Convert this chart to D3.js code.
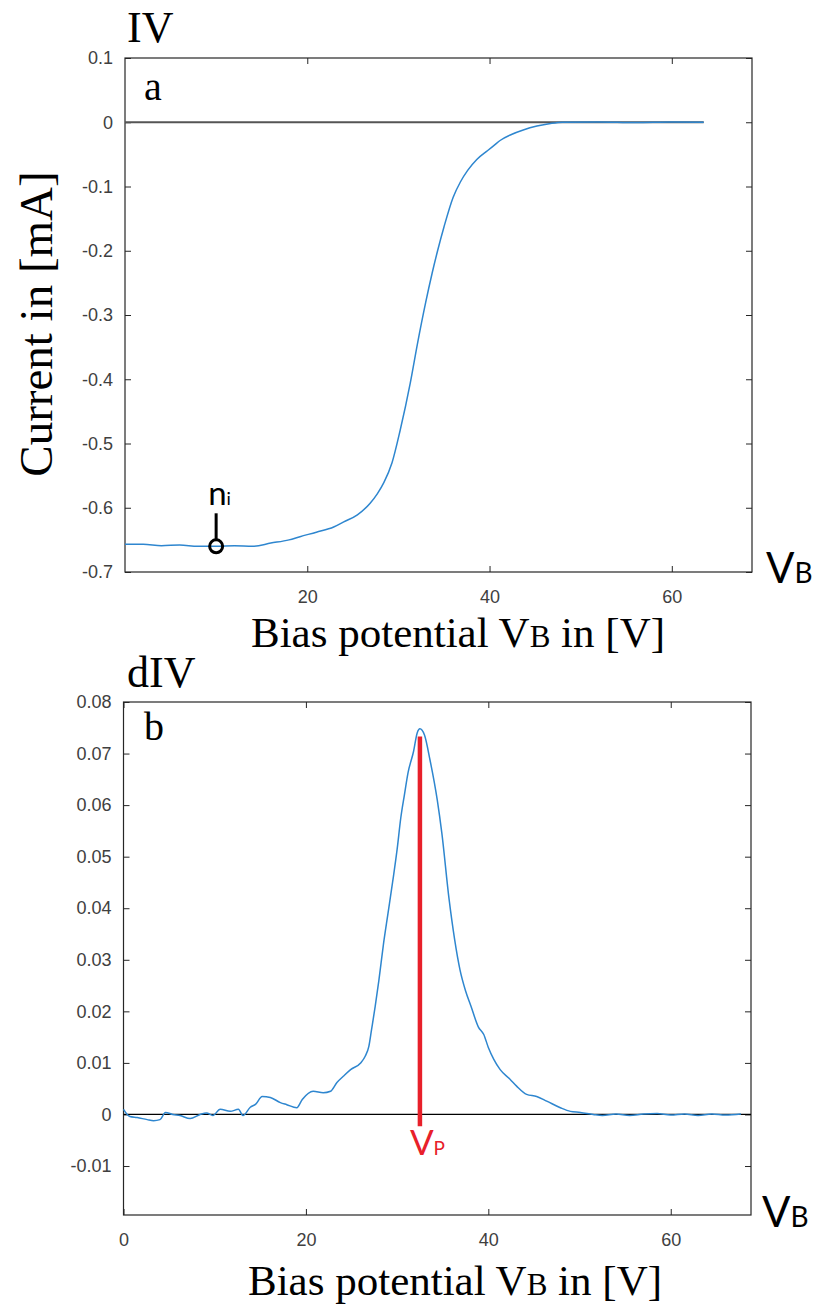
<!DOCTYPE html>
<html>
<head>
<meta charset="utf-8">
<script src="https://cdn.jsdelivr.net/npm/d3@7/dist/d3.min.js"></script>
<style>
  html, body { margin: 0; padding: 0; background: #fff; }
  svg { display: block; }
</style>
</head>
<body>
<svg id="chart" width="814" height="1307"></svg>
<script>
// ---------------- DATA ----------------
// Panel a: IV characteristic (bias potential V, current mA)
const ivVoltage = [0, 2, 4, 6, 8, 10, 12, 14, 16, 18, 19.2, 21, 22.9, 24, 25.5, 26.9, 27.7, 28.4, 29.3, 30.2, 31.3, 32.1, 33, 33.7, 34.3, 35, 36, 36.8, 37.6, 38.6, 39.8, 40.5, 41.2, 42.4, 43.7, 45.2, 46.7, 48, 52, 56, 60, 63.5];
const ivCurrent = [-0.657, -0.657, -0.659, -0.658, -0.660, -0.660, -0.659, -0.660, -0.655, -0.650, -0.645, -0.638, -0.630, -0.622, -0.611, -0.593, -0.578, -0.561, -0.530, -0.479, -0.406, -0.344, -0.280, -0.235, -0.200, -0.163, -0.117, -0.093, -0.075, -0.058, -0.044, -0.036, -0.028, -0.019, -0.012, -0.006, -0.002, 0, 0.0005, -0.0005, 0.0003, 0];
const ivZeroVoltage = [0, 63.5];
const ivZeroCurrent = [0, 0];
const niPoint = [10, -0.66];

// Panel b: derivative dIV
const dIVVoltage = [0, 0.7, 1.5, 2.6, 3.3, 4, 4.6, 5.4, 6.2, 7.3, 8.4, 9.1, 9.8, 10.6, 11.7, 12.6, 13.1, 13.9, 14.5, 15.2, 16.1, 17.2, 17.9, 19.0, 19.6, 20.8, 21.9, 22.7, 23.4, 24.1, 24.9, 26.0, 26.5, 26.9, 27.2, 27.6, 28.0, 28.5, 29.0, 29.5, 30.0, 30.4, 30.8, 31.2, 31.8, 32.2, 32.5, 33.0, 33.6, 34.4, 34.9, 35.7, 36.3, 36.9, 37.5, 38.1, 38.9, 39.5, 40.0, 40.6, 41.3, 42.4, 43.1, 44.2, 45.3, 46.4, 47.9, 49.0, 50.1, 51.5, 52.5, 54, 55.5, 57, 58.5, 60, 61.5, 63, 64.5, 66, 67.7];
const dIVValue = [0.001, -0.0004, -0.0006, -0.001, -0.0012, -0.001, 0.0004, 0.0, -0.0002, -0.0008, 0, 0.0003, -0.0002, 0.001, 0.0006, 0.001, -0.0002, 0.0014, 0.002, 0.0035, 0.0033, 0.0023, 0.0019, 0.0013, 0.0029, 0.0045, 0.0042, 0.0045, 0.0062, 0.0074, 0.0087, 0.010, 0.0113, 0.0132, 0.0165, 0.021, 0.026, 0.033, 0.039, 0.045, 0.0514, 0.0575, 0.0620, 0.0663, 0.0704, 0.074, 0.0748, 0.0736, 0.0688, 0.061, 0.0546, 0.0417, 0.034, 0.028, 0.024, 0.021, 0.017, 0.0155, 0.013, 0.0107, 0.0087, 0.0068, 0.0055, 0.0039, 0.0035, 0.0026, 0.0013, 0.0006, 0.0004, 0, -0.0002, 0.0001, -0.0002, 0.0001, 0.0002, -0.0001, 0.0001, -0.0002, 0.0001, -0.0001, 0.0001];
const vpVoltage = 32.5;
const vpRange = [-0.0023, 0.0733];

// Ticks
const xTicksA = [20, 40, 60];
const yTicksA = [0.1, 0, -0.1, -0.2, -0.3, -0.4, -0.5, -0.6, -0.7];
const yTickLabelsA = ["0.1", "0", "-0.1", "-0.2", "-0.3", "-0.4", "-0.5", "-0.6", "-0.7"];
const xTicksB = [0, 20, 40, 60];
const yTicksB = [0.08, 0.07, 0.06, 0.05, 0.04, 0.03, 0.02, 0.01, 0, -0.01];
const yTickLabelsB = ["0.08", "0.07", "0.06", "0.05", "0.04", "0.03", "0.02", "0.01", "0", "-0.01"];

// ---------------- DRAW ----------------
const svg = d3.select("#chart");
const BLUE = "#2e86cf";
const RED = "#e8202a";
const AXIS = "#262626";
const serif = "'Liberation Serif', 'Times New Roman', serif";
const sans = "'Liberation Sans', Arial, sans-serif";
const cal = "Lato, 'Open Sans', sans-serif";

function panel(cfg) {
  const x = d3.scaleLinear().domain(cfg.xDomain).range([cfg.left, cfg.right]);
  const y = d3.scaleLinear().domain(cfg.yDomain).range([cfg.bottom, cfg.top]);
  const g = svg.append("g");

  const styleAxis = sel => {
    sel.select(".domain").remove();
    sel.selectAll(".tick line").attr("stroke", AXIS).attr("stroke-width", 1);
    sel.selectAll(".tick text").attr("fill", "#404040").style("font-family", sans).style("font-size", "18px");
  };

  g.append("g").attr("transform", `translate(0,${cfg.bottom})`)
    .call(d3.axisBottom(x).tickValues(cfg.xTicks).tickSize(-6).tickPadding(18).tickFormat(d3.format("d")))
    .call(styleAxis);
  g.append("g").attr("transform", `translate(0,${cfg.top})`)
    .call(d3.axisTop(x).tickValues(cfg.xTicks).tickSize(-6).tickFormat(""))
    .call(styleAxis);
  g.append("g").attr("transform", `translate(${cfg.left},0)`)
    .call(d3.axisLeft(y).tickValues(cfg.yTicks).tickSize(-6).tickPadding(12)
      .tickFormat((d, i) => cfg.yLabels[i]))
    .call(styleAxis);
  g.append("g").attr("transform", `translate(${cfg.right},0)`)
    .call(d3.axisRight(y).tickValues(cfg.yTicks).tickSize(-6).tickFormat(""))
    .call(styleAxis);

  g.append("rect").attr("x", cfg.left).attr("y", cfg.top)
    .attr("width", cfg.right - cfg.left).attr("height", cfg.bottom - cfg.top)
    .attr("fill", "none").attr("stroke", AXIS).attr("stroke-width", 1.2);
  return { x, y, g };
}

// ---- Panel a ----
const A = panel({
  xDomain: [0, 68.8], yDomain: [-0.7, 0.1],
  left: 125, right: 752, top: 58, bottom: 572,
  xTicks: xTicksA, yTicks: yTicksA, yLabels: yTickLabelsA
});
A.g.append("path").datum(ivZeroCurrent)
  .attr("d", d3.line().x((d, i) => A.x(ivZeroVoltage[i])).y(d => A.y(d)))
  .attr("stroke", "#555555").attr("stroke-width", 1.8).attr("fill", "none");
const lineA = d3.line().curve(d3.curveMonotoneX).x((d, i) => A.x(ivVoltage[i])).y(d => A.y(d));
A.g.append("path").datum(ivCurrent).attr("d", lineA)
  .attr("stroke", BLUE).attr("stroke-width", 1.5).attr("fill", "none")
  .attr("stroke-linejoin", "round");

// ni marker
const nx = A.x(niPoint[0]), ny = A.y(niPoint[1]);
A.g.append("line").attr("x1", nx).attr("x2", nx).attr("y1", ny - 33).attr("y2", ny - 6)
  .attr("stroke", "#000").attr("stroke-width", 3);
A.g.append("circle").attr("cx", nx).attr("cy", ny).attr("r", 6.5)
  .attr("fill", "none").attr("stroke", "#000").attr("stroke-width", 3);
const niT = A.g.append("text").attr("x", nx - 8).attr("y", ny - 41)
  .style("font-family", cal).style("font-size", "33px").attr("fill", "#000");
niT.append("tspan").text("n");
niT.append("tspan").style("font-size", "18px").text("i");

// texts panel a
svg.append("text").attr("x", 127).attr("y", 42).style("font-family", serif).style("font-size", "44px").text("IV");
svg.append("text").attr("x", 144).attr("y", 100).style("font-family", serif).style("font-size", "40px").text("a");
const xlA = svg.append("text").attr("x", 458).attr("y", 647).attr("text-anchor", "middle")
  .style("font-family", serif).style("font-size", "43px");
xlA.append("tspan").text("Bias potential V");
xlA.append("tspan").style("font-size", "31px").text("B");
xlA.append("tspan").text(" in [V]");
svg.append("text").attr("transform", "translate(52,324) rotate(-90)").attr("text-anchor", "middle")
  .style("font-family", serif).style("font-size", "47px").text("Current in [mA]");
const vbA = svg.append("text").attr("x", 766).attr("y", 583).style("font-family", cal).style("font-size", "42px");
vbA.append("tspan").text("V");
vbA.append("tspan").style("font-size", "28px").text("B");

// ---- Panel b ----
const B = panel({
  xDomain: [0, 68.8], yDomain: [-0.0195, 0.08],
  left: 123.5, right: 751, top: 702, bottom: 1215,
  xTicks: xTicksB, yTicks: yTicksB, yLabels: yTickLabelsB
});
B.g.append("line").attr("x1", B.x(0)).attr("x2", B.x(68.8)).attr("y1", B.y(0)).attr("y2", B.y(0))
  .attr("stroke", "#000").attr("stroke-width", 1.2);
const lineB = d3.line().curve(d3.curveMonotoneX).x((d, i) => B.x(dIVVoltage[i])).y(d => B.y(d));
B.g.append("path").datum(dIVValue).attr("d", lineB)
  .attr("stroke", BLUE).attr("stroke-width", 1.5).attr("fill", "none")
  .attr("stroke-linejoin", "round");
B.g.append("line").attr("x1", B.x(vpVoltage)).attr("x2", B.x(vpVoltage))
  .attr("y1", B.y(vpRange[0])).attr("y2", B.y(vpRange[1]))
  .attr("stroke", RED).attr("stroke-width", 4.5);
const vpT = B.g.append("text").attr("x", B.x(vpVoltage) - 10).attr("y", 1155)
  .style("font-family", cal).style("font-size", "35px").attr("fill", RED);
vpT.append("tspan").text("V");
vpT.append("tspan").style("font-size", "19px").text("P");

svg.append("text").attr("x", 127).attr("y", 687).style("font-family", serif).style("font-size", "44px").text("dIV");
svg.append("text").attr("x", 144).attr("y", 740).style("font-family", serif).style("font-size", "40px").text("b");
const xlB = svg.append("text").attr("x", 455).attr("y", 1295).attr("text-anchor", "middle")
  .style("font-family", serif).style("font-size", "43px");
xlB.append("tspan").text("Bias potential V");
xlB.append("tspan").style("font-size", "31px").text("B");
xlB.append("tspan").text(" in [V]");
const vbB = svg.append("text").attr("x", 762).attr("y", 1227).style("font-family", cal).style("font-size", "42px");
vbB.append("tspan").text("V");
vbB.append("tspan").style("font-size", "28px").text("B");
</script>
</body>
</html>
